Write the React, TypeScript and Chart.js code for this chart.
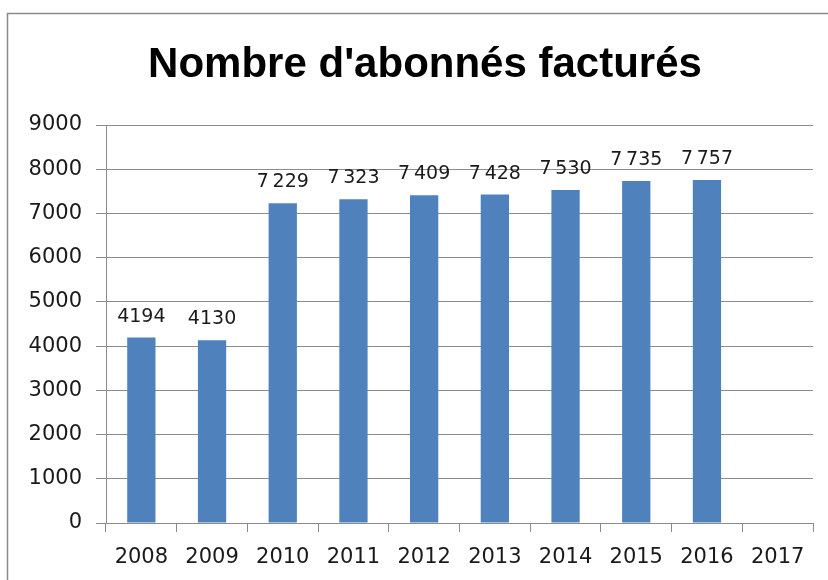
import React, { useEffect, useRef } from "react";
import { Chart, registerables } from "chart.js";

Chart.register(...registerables);

const categories = ["2008", "2009", "2010", "2011", "2012", "2013", "2014", "2015", "2016", "2017"];
const values: (number | null)[] = [4194, 4130, 7229, 7323, 7409, 7428, 7530, 7735, 7757, null];
const valueLabels = ["4194", "4130", "7\u202F229", "7\u202F323", "7\u202F409", "7\u202F428", "7\u202F530", "7\u202F735", "7\u202F757", ""];
const yTicks = [0, 1000, 2000, 3000, 4000, 5000, 6000, 7000, 8000, 9000];
const titleText = "Nombre d'abonnés facturés";

const GRID = "#8c8c8c";
const TEXT = "#1a1a1a";
const FONT = "'DejaVu Sans', sans-serif";

const framePlugin = {
  id: "frame",
  beforeDraw(chart: any) {
    const ctx = chart.ctx;
    ctx.save();
    ctx.fillStyle = "#ffffff";
    ctx.fillRect(0, 0, chart.width, chart.height);
    ctx.strokeStyle = "#8a8a8a";
    ctx.lineWidth = 1.5;
    ctx.beginPath();
    ctx.moveTo(7.5, chart.height);
    ctx.lineTo(7.5, 13.5);
    ctx.lineTo(chart.width, 13.5);
    ctx.stroke();
    ctx.font = "bold 42px 'Liberation Sans', sans-serif";
    ctx.fillStyle = "#000000";
    ctx.textAlign = "center";
    ctx.textBaseline = "alphabetic";
    ctx.fillText(titleText, 425, 77);
    ctx.restore();
  },
};

const labelPlugin = {
  id: "valueLabels",
  afterDatasetsDraw(chart: any) {
    const ctx = chart.ctx;
    const meta = chart.getDatasetMeta(0);
    ctx.save();
    ctx.font = `19px ${FONT}`;
    ctx.fillStyle = TEXT;
    ctx.textAlign = "center";
    ctx.textBaseline = "alphabetic";
    meta.data.forEach((bar: any, i: number) => {
      const v = values[i];
      if (v === null || v === undefined) return;
      ctx.fillText(valueLabels[i], bar.x, bar.y - 16);
    });
    ctx.restore();
  },
};

export default function App() {
  const ref = useRef<HTMLCanvasElement>(null);
  useEffect(() => {
    if (!ref.current) return;
    const chart = new Chart(ref.current, {
      type: "bar",
      data: {
        labels: categories,
        datasets: [
          {
            data: values as any,
            backgroundColor: "#4f81bd",
            borderWidth: 0,
            barPercentage: 0.4,
            categoryPercentage: 1,
          },
        ],
      },
      plugins: [framePlugin, labelPlugin],
      options: {
        animation: false,
        responsive: false,
        maintainAspectRatio: false,
        layout: { padding: { left: 0, right: 15, top: 125, bottom: 0 } },
        plugins: {
          legend: { display: false },
          tooltip: { enabled: false },
          title: { display: false },
        },
        scales: {
          x: {
            offset: true,
            afterFit(scale: any) {
              scale.height = 57;
            },
            grid: {
              offset: true,
              drawOnChartArea: false,
              drawTicks: true,
              tickLength: 9,
              color: GRID,
            },
            border: { display: true, color: GRID },
            ticks: {
              color: TEXT,
              font: { family: FONT, size: 21 },
              padding: 13,
              maxRotation: 0,
              autoSkip: false,
            },
          },
          y: {
            min: 0,
            max: 9000,
            afterBuildTicks(scale: any) {
              scale.ticks = yTicks.map((v) => ({ value: v }));
            },
            afterFit(scale: any) {
              scale.width = 106;
            },
            grid: {
              color: GRID,
              drawTicks: true,
              tickLength: 10,
            },
            border: { display: true, color: GRID },
            ticks: {
              color: TEXT,
              font: { family: FONT, size: 21 },
              padding: 14,
              callback: (v: any) => String(v),
            },
          },
        },
      },
    });
    return () => chart.destroy();
  }, []);
  return (
    <div style={{ position: "absolute", left: 0, top: 0, width: 828, height: 580 }}>
      <canvas ref={ref} width={828} height={580} style={{ display: "block", width: 828, height: 580 }} />
    </div>
  );
}
